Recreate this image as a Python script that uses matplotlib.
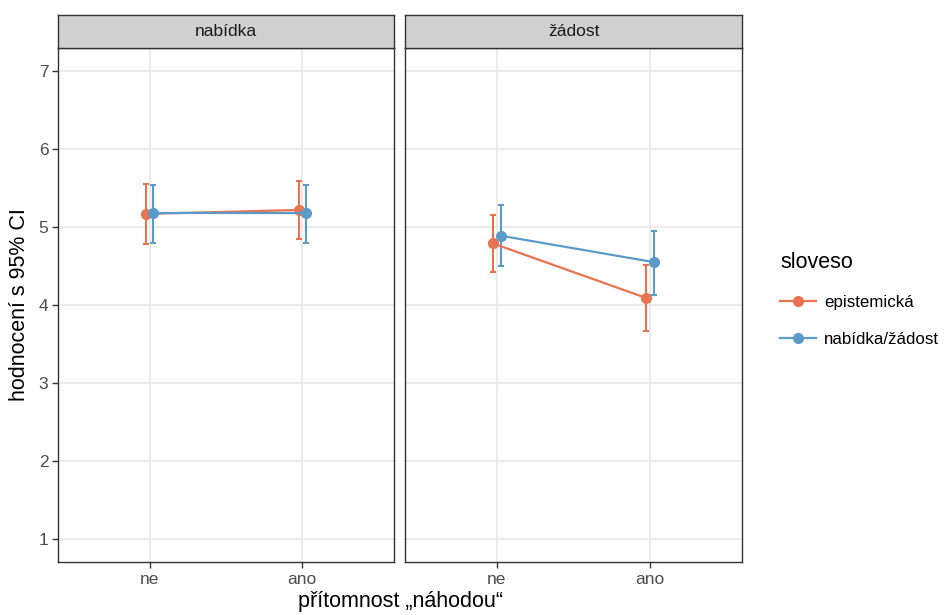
import matplotlib
matplotlib.use("Agg")
import matplotlib.pyplot as plt
from matplotlib.lines import Line2D
import numpy as np

plt.rcParams['font.family'] = ['Liberation Sans', 'DejaVu Sans']

panels = ["nabídka", "žádost"]
x_labels = ["ne", "ano"]
series = ["epistemická", "nabídka/žádost"]
colors = ["#E8734F", "#5B9BC9"]

# means [panel][series][x]
means = {
    "nabídka": {"epistemická": [5.17, 5.22], "nabídka/žádost": [5.175, 5.175]},
    "žádost": {"epistemická": [4.79, 4.09], "nabídka/žádost": [4.89, 4.55]},
}
lower = {
    "nabídka": {"epistemická": [4.78, 4.85], "nabídka/žádost": [4.80, 4.80]},
    "žádost": {"epistemická": [4.43, 3.67], "nabídka/žádost": [4.50, 4.13]},
}
upper = {
    "nabídka": {"epistemická": [5.55, 5.59], "nabídka/žádost": [5.54, 5.54]},
    "žádost": {"epistemická": [5.15, 4.51], "nabídka/žádost": [5.28, 4.95]},
}
y_ticks = [1, 2, 3, 4, 5, 6, 7]

W, H = 948, 615
fig = plt.figure(figsize=(W / 100, H / 100), dpi=100)

panel_x = [(58, 394), (405, 742)]
top_px, bot_px = 48, 562
strip_top = 15
dodge = [-0.025, 0.025]
border_col = "#333333"

for pi, panel in enumerate(panels):
    x0, x1 = panel_x[pi]
    ax = fig.add_axes([x0 / W, 1 - bot_px / H, (x1 - x0) / W, (bot_px - top_px) / H])
    ax.set_xlim(-0.6, 1.6)
    ax.set_ylim(0.7, 7.3)
    ax.set_yticks(y_ticks)
    ax.set_xticks(range(len(x_labels)))
    ax.set_xticklabels(x_labels)
    ax.grid(True, color="#EBEBEB", linewidth=1.5, zorder=0)
    ax.set_axisbelow(True)
    for sp in ax.spines.values():
        sp.set_color(border_col)
        sp.set_linewidth(1.0)
    ax.tick_params(axis='both', colors=border_col, length=4, width=1.0,
                   labelsize=12.5, labelcolor="#4D4D4D", pad=3)
    if pi > 0:
        ax.tick_params(axis='y', left=False, labelleft=False)
    xs = np.arange(len(x_labels))
    for si, s in enumerate(series):
        xp = xs + dodge[si]
        m = np.array(means[panel][s])
        lo = np.array(lower[panel][s])
        hi = np.array(upper[panel][s])
        ax.errorbar(xp, m, yerr=[m - lo, hi - m], fmt='none', ecolor=colors[si],
                    elinewidth=1.5, capsize=2.5, capthick=1.5, zorder=3)
        ax.plot(xp, m, color=colors[si], linewidth=1.6, marker='o',
                markersize=7, zorder=4)
    # strip
    sax = fig.add_axes([x0 / W, 1 - top_px / H, (x1 - x0) / W, (top_px - strip_top) / H])
    sax.set_xticks([])
    sax.set_yticks([])
    sax.set_facecolor("#D0D0D0")
    for sp in sax.spines.values():
        sp.set_color(border_col)
        sp.set_linewidth(1.0)
    sax.text(0.5, 0.5, panel, ha='center', va='center', fontsize=12.5,
             color="#1A1A1A", transform=sax.transAxes)

fig.text(20 / W, 1 - ((top_px + bot_px) / 2) / H, "hodnocení s 95% CI", rotation=90,
         ha='center', va='center', fontsize=15.5, color="black")
fig.text(((58 + 742) / 2) / W, 1 - 601 / H, "přítomnost „náhodou“",
         ha='center', va='center', fontsize=15.5, color="black")

handles = [Line2D([0], [0], color=colors[i], linewidth=1.6, marker='o', markersize=7)
           for i in range(len(series))]
leg = fig.legend(handles, series, loc='upper left', bbox_to_anchor=(780 / W, 1 - 252 / H),
                 frameon=False, title="sloveso", fontsize=12.2, title_fontsize=15.5,
                 handlelength=2.1, labelspacing=1.3, handletextpad=0.5, borderpad=0,
                 borderaxespad=0, alignment='left')

fig.savefig("out.png", dpi=100)
